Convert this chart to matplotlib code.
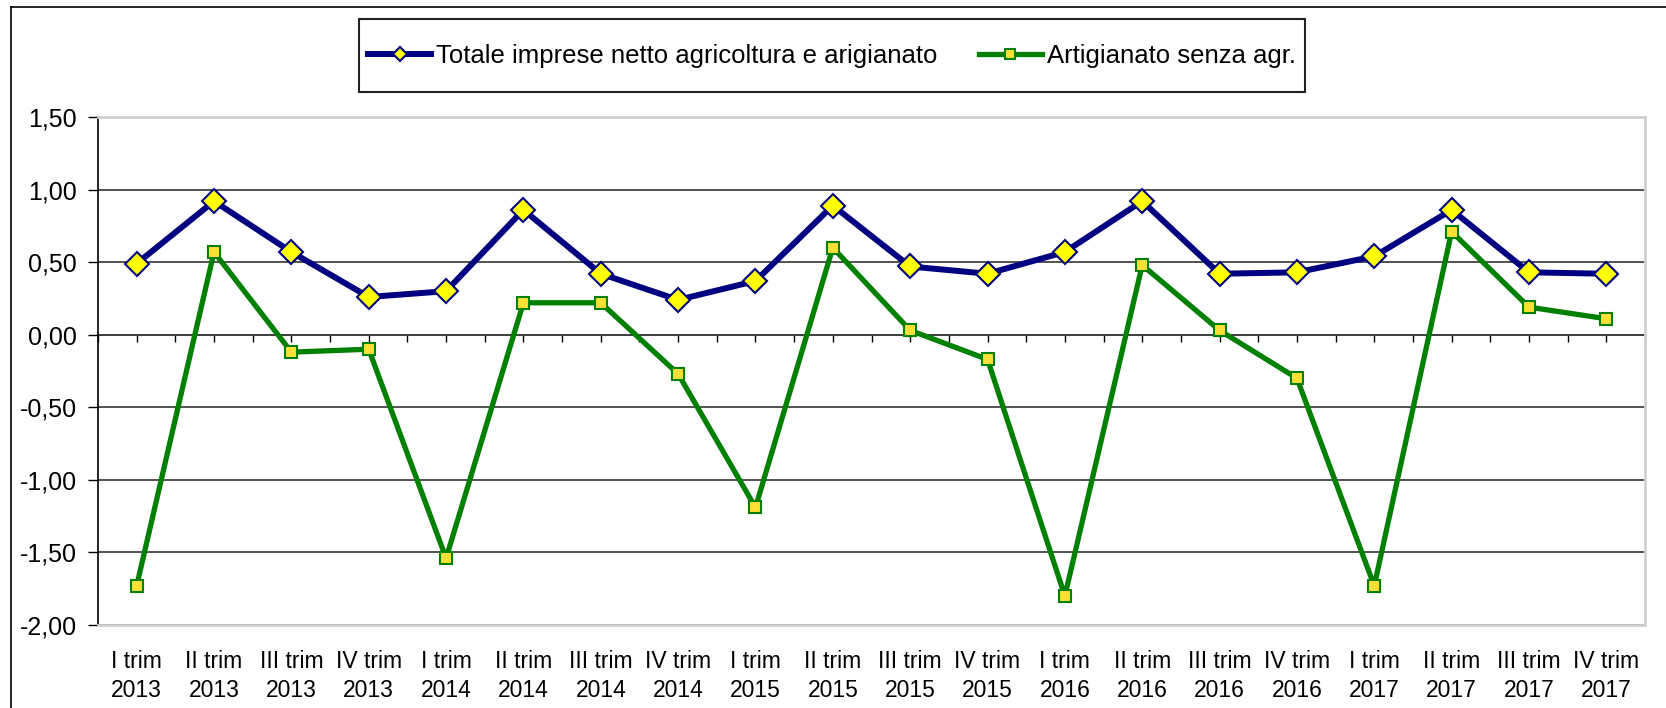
import numpy as np
import matplotlib
matplotlib.use("Agg")
import matplotlib.pyplot as plt
from matplotlib.ticker import FuncFormatter, MultipleLocator
from matplotlib.lines import Line2D
from matplotlib.patches import Rectangle

# quarters and values
quarters = ["I trim\n2013", "II trim\n2013", "III trim\n2013", "IV trim\n2013",
            "I trim\n2014", "II trim\n2014", "III trim\n2014", "IV trim\n2014",
            "I trim\n2015", "II trim\n2015", "III trim\n2015", "IV trim\n2015",
            "I trim\n2016", "II trim\n2016", "III trim\n2016", "IV trim\n2016",
            "I trim\n2017", "II trim\n2017", "III trim\n2017", "IV trim\n2017"]
totale = [0.49, 0.92, 0.57, 0.26, 0.30, 0.86, 0.42, 0.24, 0.37, 0.89,
          0.47, 0.42, 0.57, 0.92, 0.42, 0.43, 0.54, 0.86, 0.43, 0.42]
artigianato = [-1.73, 0.57, -0.12, -0.10, -1.54, 0.22, 0.22, -0.27, -1.19, 0.60,
               0.03, -0.17, -1.80, 0.48, 0.03, -0.30, -1.73, 0.71, 0.19, 0.11]

W, H = 1666, 708
fig = plt.figure(figsize=(W / 100, H / 100), dpi=100)
ax = fig.add_axes([98 / W, 1 - 625 / H, (1645 - 98) / W, (625 - 117) / H])

x = np.arange(len(quarters))

# tick marks along the zero line (second axis sharing y)
ax2 = ax.twiny()
ax2.set_xlim(-0.5, len(quarters) - 0.5)
for s in ["top", "left", "right"]:
    ax2.spines[s].set_visible(False)
ax2.spines["bottom"].set_position(("data", 0))
ax2.spines["bottom"].set_color("black")
ax2.spines["bottom"].set_linewidth(1.2)
ax2.xaxis.set_ticks_position("bottom")
ax2.set_xticks(np.arange(-0.5, len(quarters), 0.5))
ax2.tick_params(axis="x", direction="out", length=5, width=1, labelbottom=False, labeltop=False)
ax.set_zorder(ax2.get_zorder() + 1)
ax.patch.set_visible(False)

ax.plot(x, totale, color="#000080", lw=4.3, marker="D", ms=12.5,
        mfc="#FFFF00", mec="#000080", mew=1.5, label="Totale imprese netto agricoltura e arigianato",
        zorder=4)
ax.plot(x, artigianato, color="#008000", lw=3.8, marker="s", ms=8,
        mfc="#FFE135", mec="#008000", mew=1.5, label="Artigianato senza agr.", zorder=3)

ax.set_xlim(-0.5, len(quarters) - 0.5)
ax.set_ylim(-2.0, 1.5)
ax.yaxis.set_major_locator(MultipleLocator(0.5))
ax.yaxis.set_major_formatter(FuncFormatter(lambda v, p: f"{v:.2f}".replace(".", ",")))
ax.grid(axis="y", color="#444444", lw=1.3)
ax.set_axisbelow(True)

ax.set_xticks(x)
ax.set_xticklabels(quarters, family="Liberation Sans", fontsize=16.5, linespacing=1.35)
ax.tick_params(axis="x", length=0, pad=18)
ax.tick_params(axis="y", direction="out", length=7, width=1, pad=8, labelsize=18)
for lab in ax.get_yticklabels():
    lab.set_family("Liberation Sans")

for s in ["top", "right", "bottom"]:
    ax.spines[s].set_color("#D0D0D0")
    ax.spines[s].set_linewidth(2)
ax.spines["left"].set_color("black")
ax.spines["left"].set_linewidth(1.2)

# legend
leg = fig.legend(loc="center", bbox_to_anchor=(0.4994, 0.9216), ncol=2, frameon=False,
                 prop={"family": "Liberation Sans", "size": 18.5},
                 handlelength=2.45, handletextpad=0.2, columnspacing=1.6)
leg.legend_handles[0].set_markersize(7.5)
leg.legend_handles[1].set_markersize(6.5)
fig.patches.append(Rectangle((359 / W, 1 - 92 / H), (1305 - 359) / W, (92 - 19) / H,
                             transform=fig.transFigure, fill=False, ec="#222222", lw=1.5))

# outer frame
fig.add_artist(Line2D([11 / W, 11 / W], [0, 1 - 7 / H], transform=fig.transFigure,
                      color="black", lw=1.2))
fig.add_artist(Line2D([11 / W, 1], [1 - 7 / H, 1 - 7 / H], transform=fig.transFigure,
                      color="black", lw=1.2))

fig.savefig("out.png", dpi=100)
